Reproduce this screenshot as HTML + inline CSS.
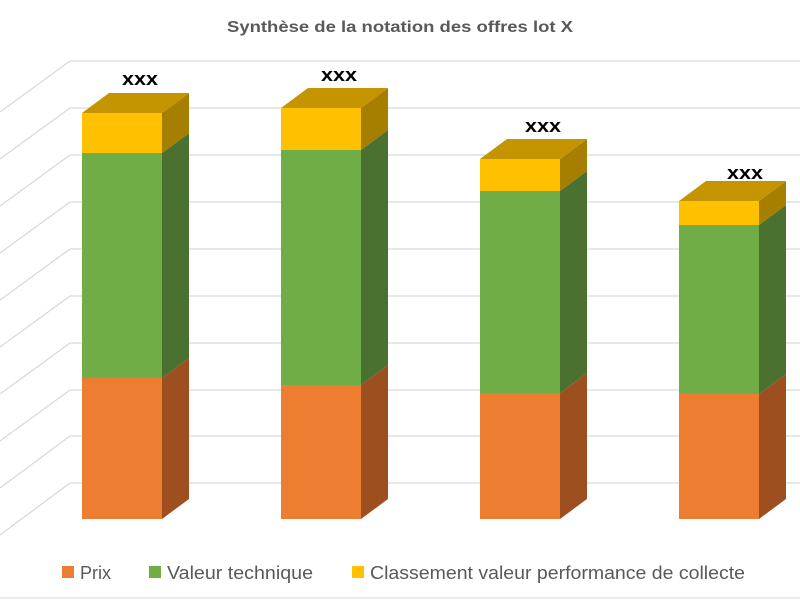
<!DOCTYPE html>
<html><head><meta charset="utf-8"><style>body{margin:0;background:#fff}svg{display:block;font-family:"Liberation Sans",sans-serif}</style></head><body>
<svg width="800" height="600" viewBox="0 0 800 600" xmlns="http://www.w3.org/2000/svg">
<rect width="800" height="600" fill="#fff"/>
<text x="227" y="32" font-size="16" font-weight="bold" fill="#595959" textLength="346" lengthAdjust="spacingAndGlyphs">Synthèse de la notation des offres lot X</text>
<g stroke="#d9d9d9" stroke-width="1.3" fill="none">
<path d="M70 61H800M70 61L0 112"/><path d="M70 108H800M70 108L0 159"/><path d="M70 155H800M70 155L0 206"/><path d="M70 202H800M70 202L0 253"/><path d="M70 249H800M70 249L0 300"/><path d="M70 296H800M70 296L0 347"/><path d="M70 343H800M70 343L0 394"/><path d="M70 390H800M70 390L0 441"/><path d="M70 436H800M70 436L0 488"/><path d="M70 483H800M70 483L0 535"/>
</g>
<g>
<rect x="82" y="378" width="80" height="141" fill="#ED7D31"/><polygon points="162,378 189,358 189,499 162,519" fill="#9E4F1F"/>
<rect x="82" y="153" width="80" height="225" fill="#70AD47"/><polygon points="162,153 189,133 189,358 162,378" fill="#4A712F"/>
<rect x="82" y="113" width="80" height="40" fill="#FFC000"/><polygon points="162,113 189,93 189,133 162,153" fill="#A67E00"/>
<polygon points="82,113 109,93 189,93 162,113" fill="#C49500"/>
<text x="122" y="85" font-size="18" font-weight="bold" textLength="36" lengthAdjust="spacingAndGlyphs">xxx</text>
</g>
<g>
<rect x="281" y="385" width="80" height="134" fill="#ED7D31"/><polygon points="361,385 388,365 388,499 361,519" fill="#9E4F1F"/>
<rect x="281" y="150" width="80" height="235" fill="#70AD47"/><polygon points="361,150 388,130 388,365 361,385" fill="#4A712F"/>
<rect x="281" y="108" width="80" height="42" fill="#FFC000"/><polygon points="361,108 388,88 388,130 361,150" fill="#A67E00"/>
<polygon points="281,108 308,88 388,88 361,108" fill="#C49500"/>
<text x="321" y="81" font-size="18" font-weight="bold" textLength="36" lengthAdjust="spacingAndGlyphs">xxx</text>
</g>
<g>
<rect x="480" y="393" width="80" height="126" fill="#ED7D31"/><polygon points="560,393 587,373 587,499 560,519" fill="#9E4F1F"/>
<rect x="480" y="191" width="80" height="202" fill="#70AD47"/><polygon points="560,191 587,171 587,373 560,393" fill="#4A712F"/>
<rect x="480" y="159" width="80" height="32" fill="#FFC000"/><polygon points="560,159 587,139 587,171 560,191" fill="#A67E00"/>
<polygon points="480,159 507,139 587,139 560,159" fill="#C49500"/>
<text x="525" y="132" font-size="18" font-weight="bold" textLength="36" lengthAdjust="spacingAndGlyphs">xxx</text>
</g>
<g>
<rect x="679" y="394" width="80" height="125" fill="#ED7D31"/><polygon points="759,394 786,374 786,499 759,519" fill="#9E4F1F"/>
<rect x="679" y="225" width="80" height="169" fill="#70AD47"/><polygon points="759,225 786,205 786,374 759,394" fill="#4A712F"/>
<rect x="679" y="201" width="80" height="24" fill="#FFC000"/><polygon points="759,201 786,181 786,205 759,225" fill="#A67E00"/>
<polygon points="679,201 706,181 786,181 759,201" fill="#C49500"/>
<text x="727" y="179" font-size="18" font-weight="bold" textLength="36" lengthAdjust="spacingAndGlyphs">xxx</text>
</g>
<g font-size="18" fill="#595959">
<rect x="62" y="566" width="12" height="12" fill="#ED7D31"/><text x="80" y="579" textLength="31" lengthAdjust="spacingAndGlyphs">Prix</text>
<rect x="149" y="566" width="12" height="12" fill="#70AD47"/><text x="167" y="579" textLength="146" lengthAdjust="spacingAndGlyphs">Valeur technique</text>
<rect x="352" y="566" width="12" height="12" fill="#FFC000"/><text x="370" y="579" textLength="375" lengthAdjust="spacingAndGlyphs">Classement valeur performance de collecte</text>
</g>
<line x1="0" y1="598" x2="800" y2="598" stroke="#d9d9d9"/>
</svg>
</body></html>
